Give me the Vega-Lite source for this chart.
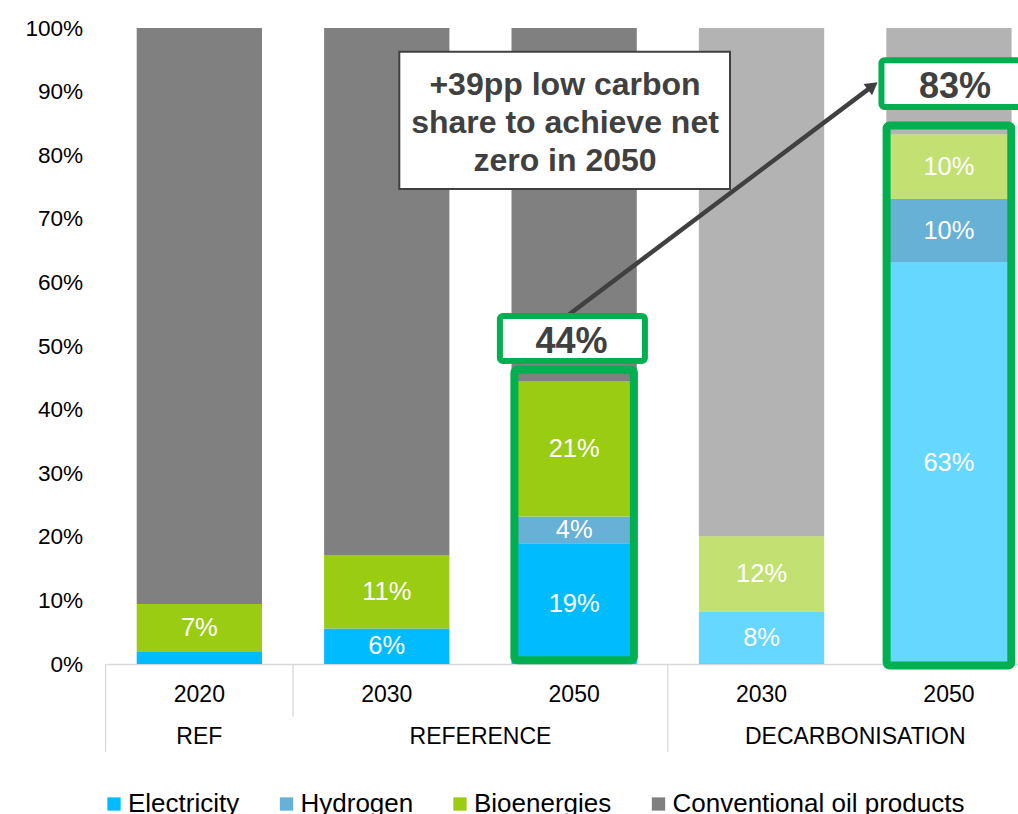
{
  "$schema": "https://vega.github.io/schema/vega-lite/v6.json",
  "width": 912,
  "height": 636,
  "autosize": {"type": "none"},
  "padding": {"left": 106, "top": 28, "right": 0, "bottom": 150},
  "background": "white",
  "config": {"font": "Liberation Sans", "view": {"stroke": null}, "axis": {"grid": false}},
  "datasets": {
    "shares": [
      {"cat": "REF|2020", "scen": "REF", "series": "Electricity", "value": 0.02},
      {"cat": "REF|2020", "scen": "REF", "series": "Bioenergies", "value": 0.0745},
      {"cat": "REF|2020", "scen": "REF", "series": "Conventional oil products", "value": 0.9055},
      {"cat": "REFERENCE|2030", "scen": "REFERENCE", "series": "Electricity", "value": 0.056},
      {"cat": "REFERENCE|2030", "scen": "REFERENCE", "series": "Bioenergies", "value": 0.1145},
      {"cat": "REFERENCE|2030", "scen": "REFERENCE", "series": "Conventional oil products", "value": 0.8295},
      {"cat": "REFERENCE|2050", "scen": "REFERENCE", "series": "Electricity", "value": 0.19},
      {"cat": "REFERENCE|2050", "scen": "REFERENCE", "series": "Hydrogen", "value": 0.042},
      {"cat": "REFERENCE|2050", "scen": "REFERENCE", "series": "Bioenergies", "value": 0.212},
      {"cat": "REFERENCE|2050", "scen": "REFERENCE", "series": "Conventional oil products", "value": 0.556},
      {"cat": "DECARBONISATION|2030", "scen": "DECARBONISATION", "series": "Electricity", "value": 0.082},
      {"cat": "DECARBONISATION|2030", "scen": "DECARBONISATION", "series": "Bioenergies", "value": 0.119},
      {"cat": "DECARBONISATION|2030", "scen": "DECARBONISATION", "series": "Conventional oil products", "value": 0.799},
      {"cat": "DECARBONISATION|2050", "scen": "DECARBONISATION", "series": "Electricity", "value": 0.632},
      {"cat": "DECARBONISATION|2050", "scen": "DECARBONISATION", "series": "Hydrogen", "value": 0.099},
      {"cat": "DECARBONISATION|2050", "scen": "DECARBONISATION", "series": "Bioenergies", "value": 0.102},
      {"cat": "DECARBONISATION|2050", "scen": "DECARBONISATION", "series": "Conventional oil products", "value": 0.167}
    ]
  },
  "layer": [
    {
      "data": {"name": "shares"},
      "transform": [
        {"calculate": "indexof(['Electricity','Hydrogen','Bioenergies','Conventional oil products'], datum.series)", "as": "ord"}
      ],
      "mark": {"type": "bar"},
      "encoding": {
        "x": {
          "field": "cat", "type": "nominal",
          "scale": {"domain": ["REF|2020", "REFERENCE|2030", "REFERENCE|2050", "DECARBONISATION|2030", "DECARBONISATION|2050"], "paddingInner": 0.3314, "paddingOuter": 0.099, "align": 0.8275},
          "axis": {"title": null, "labelExpr": "split(datum.value, '|')[1]", "labelFontSize": 23, "labelColor": "#000000", "labelAngle": 0, "ticks": false, "tickSize": 0, "labelPadding": 19, "domainColor": "#D9D9D9", "domainWidth": 1.3}
        },
        "y": {
          "field": "value", "type": "quantitative", "stack": "zero",
          "scale": {"domain": [0, 1], "nice": false},
          "axis": {"title": null, "format": ".0%", "values": [0, 0.1, 0.2, 0.3, 0.4, 0.5, 0.6, 0.7, 0.8, 0.9, 1], "labelFontSize": 22.6, "labelColor": "#000000", "domain": false, "ticks": false, "tickSize": 0, "labelPadding": 23.3}
        },
        "color": {
          "field": "series", "type": "nominal",
          "scale": {"domain": ["Electricity", "Hydrogen", "Bioenergies", "Conventional oil products"], "range": ["#00BCFF", "#67B0D6", "#9BCC14", "#808080"]},
          "legend": {"orient": "none", "legendX": -5, "legendY": 763, "direction": "horizontal", "title": null, "symbolType": "square", "symbolSize": 177, "symbolStrokeWidth": 0, "symbolOpacity": 1, "labelFontSize": 26, "labelOffset": 1, "columnPadding": 33.5, "padding": 0, "labelColor": "#000000", "labelLimit": 0}
        },
        "order": {"field": "ord"},
        "opacity": {"condition": {"test": "datum.scen === 'DECARBONISATION' && datum.series !== 'Hydrogen'", "value": 0.6}, "value": 1}
      }
    },
    {
      "data": {"name": "shares"},
      "transform": [
        {"calculate": "indexof(['Electricity','Hydrogen','Bioenergies','Conventional oil products'], datum.series)", "as": "ord"},
        {"stack": "value", "groupby": ["cat"], "sort": [{"field": "ord"}], "as": ["v0", "v1"]},
        {"filter": "datum.series !== 'Conventional oil products' && datum.value >= 0.03"},
        {"calculate": "(datum.v0 + datum.v1) / 2", "as": "mid"}
      ],
      "mark": {"type": "text", "color": "#FFFFFF", "fontSize": 25.5, "baseline": "middle"},
      "encoding": {
        "x": {"field": "cat", "type": "nominal", "scale": {"domain": ["REF|2020", "REFERENCE|2030", "REFERENCE|2050", "DECARBONISATION|2030", "DECARBONISATION|2050"]}},
        "y": {"field": "mid", "type": "quantitative", "scale": {"domain": [0, 1], "nice": false}},
        "text": {"field": "value", "type": "quantitative", "format": ".0%"}
      }
    },
    {
      "data": {"values": [{"cat": "REF|2020"}, {"cat": "DECARBONISATION|2030"}]},
      "mark": {"type": "rule", "color": "#D9D9D9", "strokeWidth": 1.3},
      "encoding": {
        "x": {"field": "cat", "type": "nominal", "bandPosition": -0.248, "scale": {"domain": ["REF|2020", "REFERENCE|2030", "REFERENCE|2050", "DECARBONISATION|2030", "DECARBONISATION|2050"]}},
        "y": {"datum": 0, "type": "quantitative"},
        "y2": {"datum": -0.1379}
      }
    },
    {
      "data": {"values": [{"cat": "REFERENCE|2030"}]},
      "mark": {"type": "rule", "color": "#D9D9D9", "strokeWidth": 1.3},
      "encoding": {
        "x": {"field": "cat", "type": "nominal", "bandPosition": -0.248, "scale": {"domain": ["REF|2020", "REFERENCE|2030", "REFERENCE|2050", "DECARBONISATION|2030", "DECARBONISATION|2050"]}},
        "y": {"datum": 0, "type": "quantitative"},
        "y2": {"datum": -0.083}
      }
    },
    {
      "data": {"values": [{"cat": "REF|2020", "grp": "REF"}]},
      "mark": {"type": "text", "fontSize": 23, "color": "#000000", "baseline": "middle"},
      "encoding": {
        "x": {"field": "cat", "type": "nominal", "bandPosition": 0.5, "scale": {"domain": ["REF|2020", "REFERENCE|2030", "REFERENCE|2050", "DECARBONISATION|2030", "DECARBONISATION|2050"]}},
        "y": {"datum": -0.1143, "type": "quantitative"},
        "text": {"field": "grp"}
      }
    },
    {
      "data": {"values": [{"cat": "REFERENCE|2030", "grp": "REFERENCE"}, {"cat": "DECARBONISATION|2030", "grp": "DECARBONISATION"}]},
      "mark": {"type": "text", "fontSize": 23, "color": "#000000", "baseline": "middle"},
      "encoding": {
        "x": {"field": "cat", "type": "nominal", "bandPosition": 1.248, "scale": {"domain": ["REF|2020", "REFERENCE|2030", "REFERENCE|2050", "DECARBONISATION|2030", "DECARBONISATION|2050"]}},
        "y": {"datum": -0.1143, "type": "quantitative"},
        "text": {"field": "grp"}
      }
    },
    {
      "data": {"values": [{"cat": "REFERENCE|2050", "lo": 0.006, "hi": 0.4627}]},
      "mark": {"type": "bar", "fillOpacity": 0, "stroke": "#00B050", "strokeWidth": 8, "width": 119.5, "cornerRadius": 3},
      "encoding": {
        "x": {"field": "cat", "type": "nominal", "scale": {"domain": ["REF|2020", "REFERENCE|2030", "REFERENCE|2050", "DECARBONISATION|2030", "DECARBONISATION|2050"]}},
        "y": {"field": "lo", "type": "quantitative"},
        "y2": {"field": "hi"}
      }
    },
    {
      "data": {"values": [{"cat": "DECARBONISATION|2050", "lo": -0.0024, "hi": 0.8467}]},
      "mark": {"type": "bar", "fillOpacity": 0, "stroke": "#00B050", "strokeWidth": 8, "width": 124.7, "cornerRadius": 3},
      "encoding": {
        "x": {"field": "cat", "type": "nominal", "scale": {"domain": ["REF|2020", "REFERENCE|2030", "REFERENCE|2050", "DECARBONISATION|2030", "DECARBONISATION|2050"]}},
        "y": {"field": "lo", "type": "quantitative"},
        "y2": {"field": "hi"}
      }
    },
    {
      "data": {"values": [{"from": "REFERENCE|2050", "to": "DECARBONISATION|2050", "ya": 0.5252, "yb": 0.909}]},
      "mark": {"type": "rule", "color": "#404040", "strokeWidth": 4.5, "xOffset": -25.75, "x2Offset": -76.25},
      "encoding": {
        "x": {"field": "from", "type": "nominal", "scale": {"domain": ["REF|2020", "REFERENCE|2030", "REFERENCE|2050", "DECARBONISATION|2030", "DECARBONISATION|2050"]}},
        "x2": {"field": "to"},
        "y": {"field": "ya", "type": "quantitative"},
        "y2": {"field": "yb"}
      }
    },
    {
      "data": {"values": [{"cat": "DECARBONISATION|2050", "ya": 0.909}]},
      "mark": {"type": "point", "shape": "triangle-up", "filled": true, "color": "#404040", "opacity": 1, "size": 200, "angle": 53, "xOffset": -76.25},
      "encoding": {
        "x": {"field": "cat", "type": "nominal", "scale": {"domain": ["REF|2020", "REFERENCE|2030", "REFERENCE|2050", "DECARBONISATION|2030", "DECARBONISATION|2050"]}},
        "y": {"field": "ya", "type": "quantitative"}
      }
    },
    {
      "data": {"values": [{"cat": "REFERENCE|2050", "lo": 0.4764, "hi": 0.5472}]},
      "mark": {"type": "bar", "fill": "#FFFFFF", "stroke": "#00B050", "strokeWidth": 6, "width": 145, "xOffset": -1.75, "cornerRadius": 3},
      "encoding": {
        "x": {"field": "cat", "type": "nominal", "scale": {"domain": ["REF|2020", "REFERENCE|2030", "REFERENCE|2050", "DECARBONISATION|2030", "DECARBONISATION|2050"]}},
        "y": {"field": "lo", "type": "quantitative"},
        "y2": {"field": "hi"}
      }
    },
    {
      "data": {"values": [{"cat": "DECARBONISATION|2050", "lo": 0.8758, "hi": 0.9492}]},
      "mark": {"type": "bar", "fill": "#FFFFFF", "stroke": "#00B050", "strokeWidth": 6, "width": 146, "xOffset": 5.5, "cornerRadius": 3},
      "encoding": {
        "x": {"field": "cat", "type": "nominal", "scale": {"domain": ["REF|2020", "REFERENCE|2030", "REFERENCE|2050", "DECARBONISATION|2030", "DECARBONISATION|2050"]}},
        "y": {"field": "lo", "type": "quantitative"},
        "y2": {"field": "hi"}
      }
    },
    {
      "data": {"values": [{"cat": "REFERENCE|2050", "lo": 0.7469, "hi": 0.9627}]},
      "mark": {"type": "bar", "fill": "#FFFFFF", "stroke": "#404040", "strokeWidth": 2, "width": 330.7, "xOffset": -9.5},
      "encoding": {
        "x": {"field": "cat", "type": "nominal", "scale": {"domain": ["REF|2020", "REFERENCE|2030", "REFERENCE|2050", "DECARBONISATION|2030", "DECARBONISATION|2050"]}},
        "y": {"field": "lo", "type": "quantitative"},
        "y2": {"field": "hi"}
      }
    },
    {
      "data": {"values": [{"cat": "REFERENCE|2050", "ya": 0.489, "label": "44%"}]},
      "mark": {"type": "text", "fontSize": 36, "fontWeight": "bold", "color": "#404040", "baseline": "alphabetic", "xOffset": -2.6},
      "encoding": {
        "x": {"field": "cat", "type": "nominal", "scale": {"domain": ["REF|2020", "REFERENCE|2030", "REFERENCE|2050", "DECARBONISATION|2030", "DECARBONISATION|2050"]}},
        "y": {"field": "ya", "type": "quantitative"},
        "text": {"field": "label"}
      }
    },
    {
      "data": {"values": [{"cat": "DECARBONISATION|2050", "ya": 0.8895, "label": "83%"}]},
      "mark": {"type": "text", "fontSize": 36, "fontWeight": "bold", "color": "#404040", "baseline": "alphabetic", "xOffset": 6},
      "encoding": {
        "x": {"field": "cat", "type": "nominal", "scale": {"domain": ["REF|2020", "REFERENCE|2030", "REFERENCE|2050", "DECARBONISATION|2030", "DECARBONISATION|2050"]}},
        "y": {"field": "ya", "type": "quantitative"},
        "text": {"field": "label"}
      }
    },
    {
      "data": {"values": [{"cat": "REFERENCE|2050", "ya": 0.8945, "label": "+39pp low carbon\nshare to achieve net\nzero in 2050"}]},
      "mark": {"type": "text", "fontSize": 32, "fontWeight": "bold", "color": "#404040", "baseline": "alphabetic", "lineBreak": "\n", "lineHeight": 38, "xOffset": -9.15},
      "encoding": {
        "x": {"field": "cat", "type": "nominal", "scale": {"domain": ["REF|2020", "REFERENCE|2030", "REFERENCE|2050", "DECARBONISATION|2030", "DECARBONISATION|2050"]}},
        "y": {"field": "ya", "type": "quantitative"},
        "text": {"field": "label"}
      }
    }
  ]
}
